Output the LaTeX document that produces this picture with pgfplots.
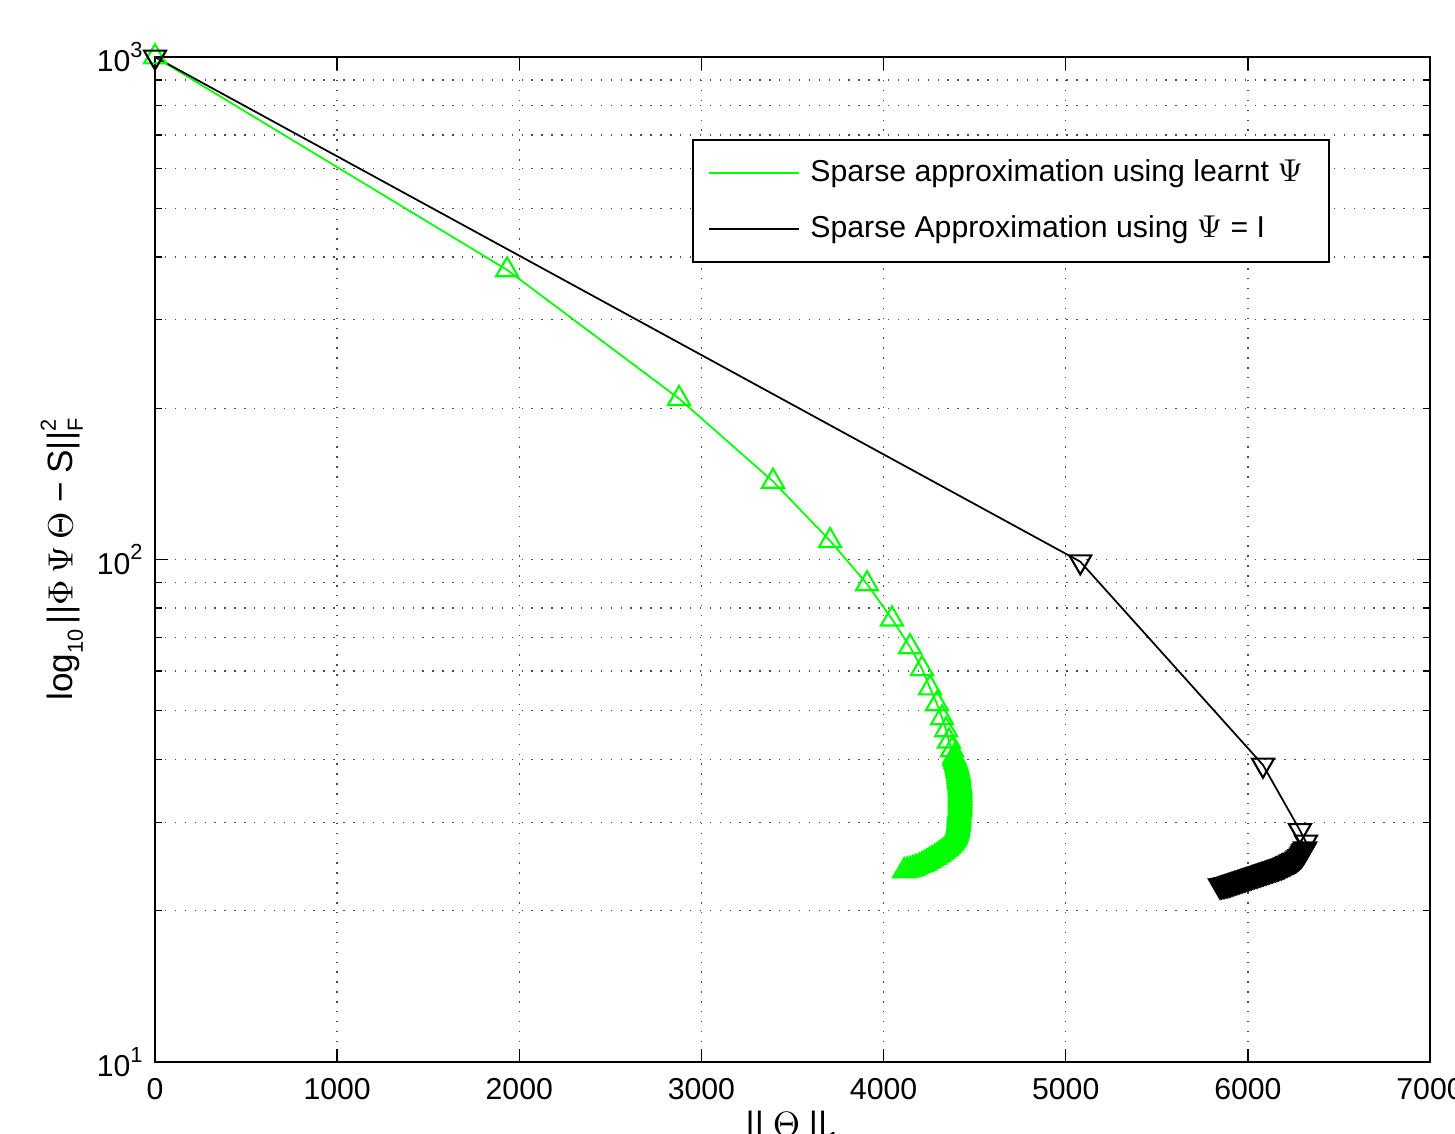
\documentclass[border=0pt]{standalone}
\usepackage{pgfplots}
\pgfplotsset{compat=1.18}
\usepackage{pgfplotstable}
\usepackage{fontspec}
\setmainfont{Liberation Sans}
\newcommand\fs{\fontsize{8.6}{10}\selectfont}
\newcommand\lo[1]{\raisebox{-0.55ex}{\fontsize{6.2}{7}\selectfont #1}}
\newcommand\hi[1]{\raisebox{0.9ex}{\fontsize{6.2}{7}\selectfont #1}}

% learnt Psi (green, up triangles)
\pgfplotstableread{
x y
0 1000
1933 377
2877 209
3393 143
3706 109
3909 89.4
4046 76.1
4145 67.0
4211 60.6
4255 55.5
4293 51.6
4321 48.4
4343 45.8
4359 43.5
4376 41.8
4387 40.45
4390 40.17
4392 39.90
4395 39.62
4398 39.35
4401 39.08
4403 38.82
4405 38.55
4406 38.29
4408 38.03
4409 37.77
4411 37.51
4412 37.25
4413 37.00
4414 36.74
4414 36.49
4414 36.24
4416 36.00
4417 35.75
4419 35.50
4420 35.26
4420 35.02
4420 34.78
4420 34.54
4420 34.31
4420 34.07
4420 33.84
4420 33.61
4420 33.38
4420 33.15
4420 32.92
4420 32.70
4420 32.47
4420 32.25
4420 32.03
4419 31.81
4417 31.59
4416 31.38
4414 31.16
4414 30.95
4414 30.74
4414 30.53
4414 30.32
4413 30.11
4412 29.91
4411 29.70
4409 29.50
4408 29.30
4406 29.10
4405 28.90
4403 28.70
4401 28.50
4398 28.31
4395 28.11
4392 27.92
4387 27.73
4381 27.54
4376 27.35
4370 27.17
4362 26.98
4354 26.80
4346 26.61
4337 26.43
4326 26.25
4315 26.07
4304 25.89
4293 25.71
4280 25.53
4266 25.36
4252 25.19
4238 25.02
4225 24.85
4211 24.68
4195 24.54
4178 24.40
4162 24.28
4145 24.17
4129 24.09
4113 24.01
}\learnt

% Psi = I (black, down triangles)
\pgfplotstableread{
x y
0 1000
5080 99.0
6083 39.0
6286 28.9
6319 27.4
6314 26.56
6309 26.37
6303 26.19
6298 26.01
6292 25.83
6284 25.65
6275 25.48
6267 25.36
6259 25.24
6251 25.16
6242 25.08
6234 24.99
6226 24.90
6218 24.82
6209 24.74
6201 24.65
6193 24.57
6185 24.51
6176 24.46
6168 24.40
6160 24.34
6152 24.28
6143 24.23
6135 24.17
6127 24.12
6119 24.06
6111 24.01
6103 23.95
6094 23.90
6086 23.84
6078 23.79
6070 23.73
6061 23.68
6053 23.63
6045 23.58
6037 23.52
6028 23.47
6020 23.41
6012 23.36
6004 23.30
5995 23.25
5987 23.20
5979 23.15
5971 23.09
5962 23.04
5954 22.99
5946 22.94
5938 22.88
5929 22.83
5921 22.78
5913 22.73
5905 22.67
5897 22.62
5889 22.58
5880 22.55
5872 22.51
5864 22.48
5856 22.45
5847 22.42
}\identity

\begin{document}
\begin{tikzpicture}
\begin{semilogyaxis}[
  name=ax,
  scale only axis,
  width=127.5mm, height=100.5mm,
  xmin=0, xmax=7000, ymin=10, ymax=1000,
  xtick={0,1000,...,7000},
  ytick={10,100,1000},
  yticklabels={10\hi{1},10\hi{2},10\hi{3}},
  /pgf/number format/1000 sep={},
  /pgf/number format/assume math mode=true,
  tick label style={font=\fs},
  xticklabel style={yshift=-0.4mm},
  label style={font=\fs},
  tick align=inside,
  major tick length=1.3mm, minor tick length=0.7mm,
  grid=both,
  major grid style={black!70, line width=0.4pt, dash pattern=on 0.4pt off 0.85mm},
  minor grid style={black!70, line width=0.4pt, dash pattern=on 0.4pt off 0.85mm},
  axis line style={line width=0.6pt},
  every tick/.style={black, line width=0.4pt},
  clip=false,
  xlabel={||\hspace{0.25em}$\Theta$\hspace{0.25em}||\lo{1}},
  every axis x label/.style={at={(axis description cs:0.5,-0.0746)}, anchor=base},
  ylabel={log\lo{10}\hspace{0.15em}||$\Phi$\hspace{0.2em}$\Psi$\hspace{0.2em}$\Theta$\hspace{0.25em}−\hspace{0.25em}S||\rlap{\hi{2}}\lo{F}},
  every axis y label/.style={at={(axis description cs:-0.073,0.5)}, rotate=90, anchor=center},
  legend image code/.code={\draw[#1] (0mm,0mm) -- (9mm,0mm);},
  legend style={at={(axis description cs:0.421,0.918)}, anchor=north west,
    draw=black, line width=0.5pt, font=\fs, inner xsep=1.5mm, inner ysep=1.2mm,
    row sep=1.5mm, cells={anchor=west},
    nodes={inner xsep=1.1mm}},
]
\addplot[green, line width=0.5pt, mark=triangle, mark size=1.27mm,
  mark options={solid, line width=0.6pt}, forget plot] table {\learnt};
\addplot[black, line width=0.5pt, mark=triangle, mark size=1.27mm,
  mark options={solid, line width=0.6pt, rotate=180}, forget plot] table {\identity};
\addlegendimage{green, line width=0.5pt}
\addlegendentry{Sparse approximation using learnt $\Psi$\hspace{-1.1mm}}
\addlegendimage{black, line width=0.5pt}
\addlegendentry{Sparse Approximation using $\Psi$ = I}
\end{semilogyaxis}
\pgfresetboundingbox
\useasboundingbox ([shift={(-15.5mm,-7.1mm)}]ax.south west) rectangle ([shift={(2.5mm,5.7mm)}]ax.north east);
\end{tikzpicture}
\end{document}
